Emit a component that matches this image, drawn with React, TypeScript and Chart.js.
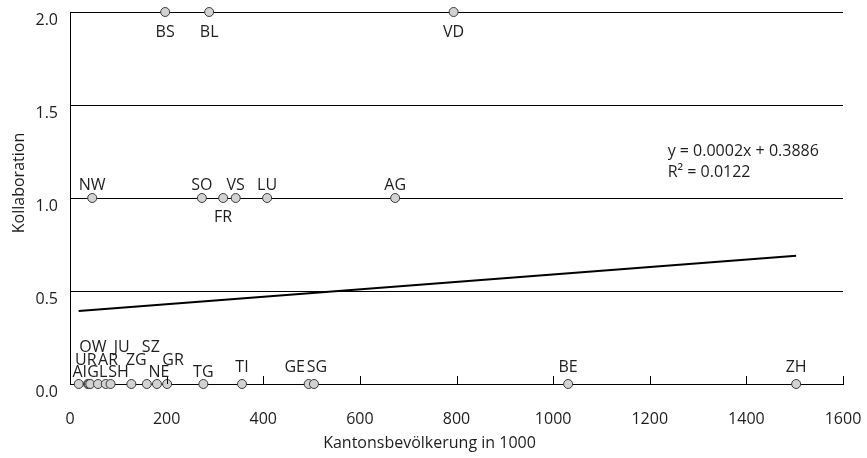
import React, { useEffect, useRef } from "react";
import { Chart, registerables } from "chart.js";

Chart.register(...registerables);

const cantons = ["AI","UR","OW","GL","NW","AR","JU","SH","ZG","SZ","NE","GR","BS","TG","SO","BL","FR","VS","TI","LU","GE","SG","AG","VD","BE","ZH"];
const population = [18,37,39,42,46,58,74,84,127,159,180,201,197,276,273,288,317,343,356,408,494,505,673,794,1031,1503];
const kollaboration = [0,0,0,0,1,0,0,0,0,0,0,0,2,0,1,2,1,1,0,1,0,0,1,2,0,0];
// label placement relative to point (dx, dy in px)
const labelDx = [1,-2,4,7,0,10,16,8,5,4,2,6,0,0,0,0,0,0,0,0,-14,3,0,0,0,0];
const labelDy = [-12,-24,-37,-12,-13,-24,-37,-12,-24,-37,-12,-24,20,-12,-13,20,19,-13,-17,-13,-17,-17,-13,20,-17,-17];

const xTicks = [0,200,400,600,800,1000,1200,1400,1600];
const yTicks = [0,0.5,1,1.5,2];
const SLOPE = 0.0002;
const INTERCEPT = 0.3886;
const R2 = "0.0122";
const xTitle = "Kantonsbevölkerung in 1000";
const yTitle = "Kollaboration";

const FONT = "'Open Sans', sans-serif";
const TEXT = "#1e1e1e";

export default function App() {
  const ref = useRef<HTMLCanvasElement>(null);
  useEffect(() => {
    document.body.style.margin = "0";
    const xMin = Math.min(...population);
    const xMax = Math.max(...population);
    const labelsPlugin = {
      id: "extras",
      afterDraw(chart: any) {
        const ctx = chart.ctx;
        const xs = chart.scales.x;
        const ys = chart.scales.y;
        const area = chart.chartArea;
        ctx.save();
        // x tick marks inward
        ctx.strokeStyle = "#000";
        ctx.lineWidth = 1;
        xTicks.forEach((v) => {
          if (v === 0) return;
          const px = Math.round(xs.getPixelForValue(v)) + 0.5;
          ctx.beginPath();
          ctx.moveTo(px, area.bottom);
          ctx.lineTo(px, area.bottom - 8);
          ctx.stroke();
        });
        // point labels
        const meta = chart.getDatasetMeta(1);
        ctx.font = `16px ${FONT}`;
        ctx.fillStyle = TEXT;
        ctx.textAlign = "center";
        ctx.textBaseline = "middle";
        meta.data.forEach((pt: any, i: number) => {
          ctx.fillText(cantons[i], pt.x + labelDx[i], pt.y + labelDy[i]);
        });
        // trend equation
        ctx.textAlign = "left";
        const ex = xs.getPixelForValue(1237);
        const ey = ys.getPixelForValue(1.25);
        ctx.fillText(`y = ${SLOPE.toFixed(4)}x + ${INTERCEPT.toFixed(4)}`, ex, ey);
        ctx.fillText(`R² = ${R2}`, ex, ey + 21);
        // axis titles
        ctx.textAlign = "center";
        ctx.fillText(xTitle, (area.left + area.right) / 2 - 27, chart.height - 15);
        ctx.translate(19, (area.top + area.bottom) / 2 - 15);
        ctx.rotate(-Math.PI / 2);
        ctx.fillText(yTitle, 0, 0);
        ctx.restore();
      },
    };
    const chart = new Chart(ref.current!, {
      type: "scatter",
      data: {
        datasets: [
          {
            type: "line",
            data: [
              { x: xMin, y: SLOPE * xMin + INTERCEPT },
              { x: xMax, y: SLOPE * xMax + INTERCEPT },
            ],
            borderColor: "#000",
            borderWidth: 2,
            pointRadius: 0,
            fill: false,
          } as any,
          {
            data: population.map((x, i) => ({ x, y: kollaboration[i] })),
            backgroundColor: "#d2d2d2",
            borderColor: "#3a3a3a",
            borderWidth: 1,
            pointRadius: 4.5,
            clip: false,
          } as any,
        ],
      },
      options: {
        responsive: false,
        animation: false,
        layout: { padding: { top: 12, right: 24, left: 0, bottom: 0 } },
        plugins: { legend: { display: false }, tooltip: { enabled: false } },
        scales: {
          x: {
            type: "linear",
            min: 0,
            max: 1600,
            afterBuildTicks: (s: any) => { s.ticks = xTicks.map((v) => ({ value: v })); },
            afterFit: (s: any) => { s.height = 74; s.paddingLeft = 0; s.paddingRight = 0; },
            grid: { display: false },
            border: { display: true, color: "#000", width: 1 },
            ticks: {
              color: TEXT,
              font: { family: FONT, size: 16 },
              padding: 18,
              maxRotation: 0,
              callback: (v: any) => String(v),
            },
          },
          y: {
            type: "linear",
            min: 0,
            max: 2,
            afterBuildTicks: (s: any) => { s.ticks = yTicks.map((v) => ({ value: v })); },
            afterFit: (s: any) => { s.width = 70; s.paddingTop = 0; s.paddingBottom = 0; },
            grid: { display: true, color: "#000", lineWidth: 1, drawTicks: false },
            border: { display: true, color: "#000", width: 1 },
            ticks: {
              color: TEXT,
              font: { family: FONT, size: 16 },
              padding: 12,
              labelOffset: 8,
              callback: (v: any) => Number(v).toFixed(1),
            },
          },
        },
      },
      plugins: [labelsPlugin],
    });
    return () => chart.destroy();
  }, []);
  return (
    <div style={{ width: 867, height: 458 }}>
      <canvas ref={ref} width={867} height={458} style={{ display: "block" }} />
    </div>
  );
}
